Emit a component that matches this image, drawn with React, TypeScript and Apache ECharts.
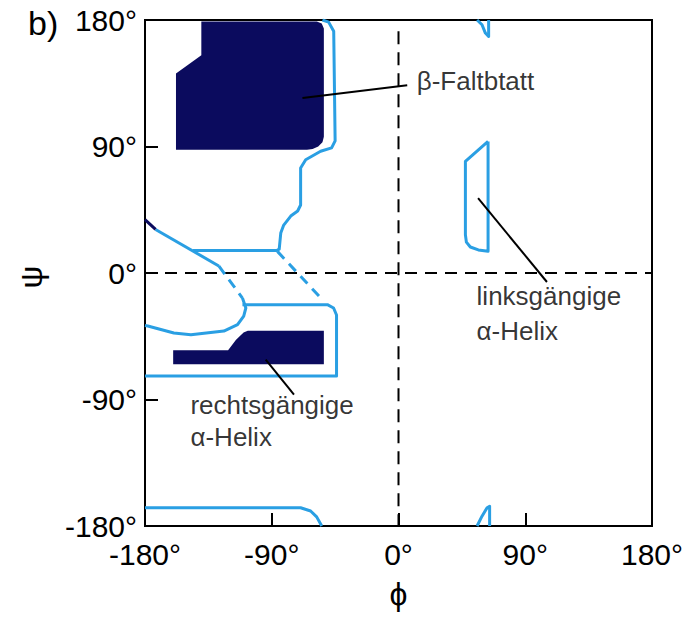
import React, { useEffect, useRef } from "react";
import * as echarts from "echarts";

const NAVY = "#0b0b5e";
const BLUE = "#2a9fe3";
const FONT = "'Liberation Sans', Arial, Helvetica, sans-serif";

const AXIS_MIN = -180;
const AXIS_MAX = 180;
const AXIS_STEP = 90;

// dark cores
const betaCore = [[-140, 179], [-58, 179], [-54.5, 177.5], [-53, 174], [-53, 97], [-54, 93], [-57, 90], [-61, 88.3], [-65, 87.7], [-158, 87.7], [-158, 142], [-140, 155]];
const alphaRCore = [[-107, -41], [-53, -41], [-53, -65], [-160, -65], [-160, -55], [-121, -55], [-115.5, -47.7], [-110, -42.3]];

// light-blue allowed region outlines
const betaOutline = [[-54, 180], [-49.6, 178.5], [-46, 172], [-45, 94], [-47.5, 89], [-55.3, 86.6], [-65.9, 80.6], [-69.5, 74.7], [-69.5, 48.4], [-71.6, 44.1], [-76.5, 40.5], [-81.5, 34.1], [-83.6, 28.4], [-84.7, 17], [-86.5, 16], [-146, 16]];
const diagonalNavy = [[-180, 38], [-172.5, 31]];
const diagonalSolid = [[-172.5, 31], [-127.6, 5]];
const diagonalDashed = [[-127.6, 5], [-110.8, -17.8]];
const leftCurve = [[-110.8, -17.8], [-108.4, -24.9], [-109.9, -30.6], [-114.3, -36.8], [-124, -41.3], [-147.4, -43.9], [-159.5, -42.7], [-178, -37.7], [-180, -37.3]];
const alphaOutline = [[-110.8, -22.5], [-50.5, -22.5], [-46.1, -24.9], [-44, -29.9], [-44, -73.3], [-180, -73.3]];
const rightDashed = [[-86, 15.4], [-53.2, -19.9]];
const bottomOutline = [[-180, -167], [-69.5, -167], [-62.4, -169.3], [-58.1, -173.5], [-54.5, -180]];
const leftHelixOutline = [[63.6, 93.6], [63.6, 15.4], [56.7, 16.4], [51, 18.5], [48.2, 22], [47.5, 27.2], [47.5, 79.4], [63.6, 93.6]];
const topPiece = [[55.8, 180], [59.3, 176.6], [61.7, 170.7], [64, 168.3], [64, 180]];
const bottomPiece = [[55.8, -180], [59.3, -173], [62.9, -167], [64.7, -166], [64.7, -180]];

// zero reference lines
const zeroVertical = [[0, 172], [0, -180]];
const zeroHorizontal = [[-180, 0], [180, 0]];

// annotation pointers
const betaPointer = [[-68.2, 124.5], [6.2, 133.5]];
const leftHelixPointer = [[56.5, 53.3], [105.4, -6.4]];
const rightHelixPointer = [[-94.3, -61.7], [-74.2, -86.6]];

const annotationTexts = ["β-Faltbtatt", "linksgängige\nα-Helix", "rechtsgängige\nα-Helix"];
const annotationAnchors = [[13.3, 136.6], [55.8, -29.5], [-147.4, -105.5]];
const annotationLineHeights = [30, 35, 32];

const lineSeries = (data: number[][], color: string, width: number, type: any = "solid", z = 3) => ({
  type: "line",
  data,
  showSymbol: false,
  symbol: "none",
  silent: true,
  z,
  lineStyle: { color, width, type, cap: "butt", join: "round" },
});

export default function App() {
  const ref = useRef<HTMLDivElement>(null);
  useEffect(() => {
    if (!ref.current) return;
    const chart = echarts.init(ref.current, null, { renderer: "svg" });
    const polys = [betaCore, alphaRCore];
    const axisCommon = {
      type: "value",
      min: AXIS_MIN,
      max: AXIS_MAX,
      interval: AXIS_STEP,
      splitLine: { show: false },
      axisLine: { show: true, onZero: false, lineStyle: { color: "#000", width: 2 } },
      axisTick: { show: true, inside: true, length: 13, lineStyle: { color: "#000", width: 2 } },
    };
    chart.setOption({
      animation: false,
      backgroundColor: "#fff",
      title: {
        text: "b)",
        left: 23,
        top: 1,
        textStyle: { fontSize: 34, fontWeight: "normal", color: "#000", fontFamily: FONT },
      },
      grid: {
        left: 145,
        top: 20,
        right: 42,
        bottom: 92,
        show: true,
        borderColor: "#000",
        borderWidth: 2,
        backgroundColor: "transparent",
        outerBoundsMode: "none",
      },
      xAxis: {
        ...axisCommon,
        name: "ϕ",
        nameLocation: "middle",
        nameGap: 52,
        nameTextStyle: { fontSize: 32, color: "#000", fontFamily: FONT },
        axisLabel: {
          formatter: (v: number) => `${v}°`,
          fontSize: 30,
          color: "#000",
          fontFamily: FONT,
          margin: 13,
          showMinLabel: true,
          showMaxLabel: true,
        },
      },
      yAxis: {
        ...axisCommon,
        name: "ψ",
        nameLocation: "middle",
        nameRotate: 90,
        nameGap: 98,
        nameTextStyle: { fontSize: 32, color: "#000", fontFamily: FONT, padding: [0, 8, 0, 0] },
        axisLabel: {
          formatter: (v: number) => `${v}°`,
          fontSize: 30,
          color: "#000",
          fontFamily: FONT,
          margin: 8,
          showMinLabel: true,
          showMaxLabel: true,
        },
      },
      series: [
        {
          type: "custom",
          silent: true,
          z: 2,
          data: polys.map((p) => p[0]),
          renderItem: (params: any, api: any) => {
            const poly = polys[params.dataIndex];
            return {
              type: "polygon",
              shape: { points: poly.map((pt) => api.coord(pt)) },
              style: { fill: NAVY },
            };
          },
        },
        lineSeries(zeroVertical, "#000", 2, [13, 8], 1),
        lineSeries(zeroHorizontal, "#000", 2, [12, 8], 1),
        lineSeries(betaOutline, BLUE, 3),
        lineSeries(diagonalSolid, BLUE, 3),
        lineSeries(diagonalNavy, NAVY, 3),
        lineSeries(diagonalDashed, BLUE, 3, [10, 7]),
        lineSeries(leftCurve, BLUE, 3),
        lineSeries(alphaOutline, BLUE, 3),
        lineSeries(rightDashed, BLUE, 3, [10, 7]),
        lineSeries(bottomOutline, BLUE, 3),
        lineSeries(leftHelixOutline, BLUE, 3),
        lineSeries(topPiece, BLUE, 3),
        lineSeries(bottomPiece, BLUE, 3),
        lineSeries(betaPointer, "#000", 2, "solid", 4),
        lineSeries(leftHelixPointer, "#000", 2, "solid", 4),
        lineSeries(rightHelixPointer, "#000", 2, "solid", 4),
        {
          type: "scatter",
          silent: true,
          z: 5,
          symbolSize: 1,
          itemStyle: { color: "rgba(0,0,0,0)" },
          data: annotationTexts.map((t, i) => ({
            value: annotationAnchors[i],
            label: {
              show: true,
              formatter: t,
              position: [0, 0],
              align: "left",
              verticalAlign: "middle",
              fontSize: 26,
              lineHeight: annotationLineHeights[i],
              color: "#000",
              fontFamily: FONT,
            },
          })),
        },
      ],
    });
    return () => chart.dispose();
  }, []);
  return <div ref={ref} style={{ position: "fixed", left: 0, top: 0, width: 694, height: 618 }} />;
}
